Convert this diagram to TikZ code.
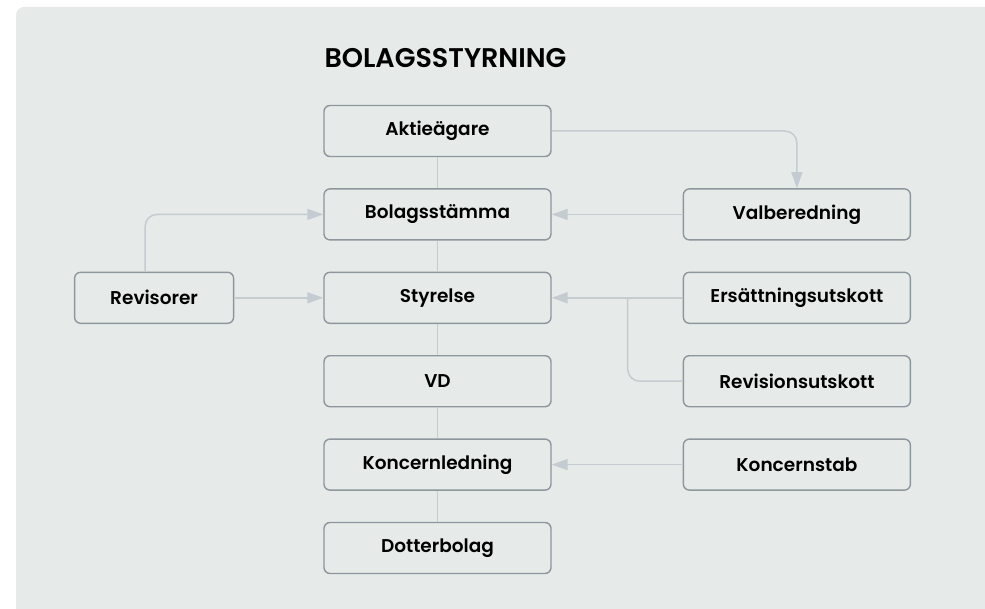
\documentclass[tikz,border=0pt]{standalone}
\usepackage{fontspec}
\setmainfont{Poppins}[BoldFont={Poppins SemiBold}]
\usetikzlibrary{arrows.meta}

\definecolor{panelgray}{HTML}{E6EAE9}
\definecolor{boxgray}{HTML}{8D979D}
\definecolor{linkgray}{HTML}{C4CCD1}

\tikzset{
  orgbox/.style={draw=boxgray, line width=1.4pt, rounded corners=6pt,
                 fill=panelgray, minimum height=51pt, inner sep=0pt,
                 font=\bfseries\fontsize{18.5}{20}\selectfont},
  wide/.style={orgbox, minimum width=227pt},
  narrow/.style={orgbox, minimum width=159pt},
  link/.style={draw=linkgray, line width=1.5pt},
  feed/.style={link, rounded corners=12pt,
               -{Triangle[length=16pt,width=11pt]}}
}

\begin{document}
\begin{tikzpicture}[x=1pt,y=1pt]
\useasboundingbox (0,0) rectangle (985,-609);
\fill[panelgray] (16,-609) [rounded corners=8pt] -- (16,-7)
  [sharp corners] -- (985,-7) -- (985,-609) -- cycle;

\node[anchor=base west, font=\bfseries\fontsize{27}{30}\selectfont]
  (title) at (321,-68) {BOLAGSSTYRNING};

\matrix[column sep=89pt, row sep=31pt, matrix anchor=akt.center]
  at (437.5,-131)
{ & \node[wide](akt){Aktieägare}; &[42pt] \\
  & \node[wide](bst){Bolagsstämma}; & \node[wide](val){Valberedning}; \\
  \node[narrow](rev){Revisorer}; & \node[wide](sty){Styrelse};
    & \node[wide](ers){Ersättningsutskott}; \\
  & \node[wide](vd){VD}; & \node[wide](rut){Revisionsutskott}; \\
  & \node[wide](kl){Koncernledning}; & \node[wide](ks){Koncernstab}; \\
  & \node[wide](dot){Dotterbolag}; & \\
};

% main chain
\draw[link] (akt) -- (bst);
\draw[link] (bst) -- (sty);
\draw[link] (sty) -- (vd);
\draw[link] (vd) -- (kl);
\draw[link] (kl) -- (dot);

% feeds into the chain
\draw[feed] (akt.east) -| (val.north);
\draw[feed] (val.west) -- (bst.east);
\draw[feed] (ers.west) -- (sty.east);
\coordinate (knee) at ([xshift=76pt]sty.east);
\draw[link, rounded corners=12pt] (rut.west) -| (knee);
\draw[feed] (rev.east) -- (sty.west);
\draw[feed] ([xshift=-9pt]rev.north) |- (bst.west);
\draw[feed] (ks.west) -- (kl.east);
\end{tikzpicture}
\end{document}
